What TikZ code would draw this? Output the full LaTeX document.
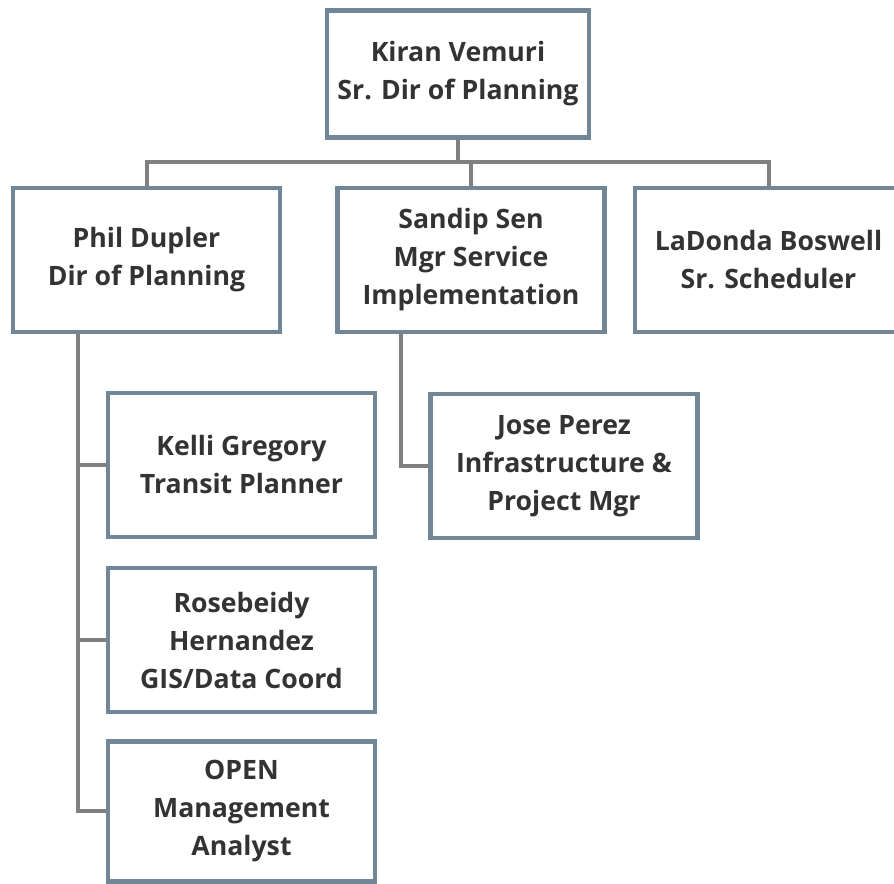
\documentclass[tikz,border=0pt]{standalone}
\usepackage{fontspec}
\setmainfont{Open Sans}
\usepackage{tikz}
\usetikzlibrary{calc,positioning}

\definecolor{boxline}{RGB}{113,134,150}
\definecolor{connline}{RGB}{128,128,128}
\definecolor{boxtext}{RGB}{51,51,51}

\tikzset{
	person/.style={draw=boxline, line width=3.4pt, fill=white, inner sep=0pt,
		minimum width=200pt, minimum height=108pt, align=center,
		text=boxtext, font=\fontsize{20}{28.5}\selectfont\bfseries},
	conn/.style={draw=connline, line width=3pt}
}

\begin{document}
\begin{tikzpicture}[x=0.75pt,y=-0.75pt]
	\useasboundingbox (0,0) rectangle (894,884);
	\clip (0,0) rectangle (894,884);
	\node[person, minimum width=196.5pt, minimum height=95.25pt] (1) at (458,74) {Kiran Vemuri\\Sr. Dir of Planning};
	\node[person] (2) at (146.5,260) {Phil Dupler\\Dir of Planning};
	\node[person] (3) at (471,260) {Sandip Sen\\Mgr Service\\Implementation};
	\node[person] (4) at (768.5,260) {LaDonda Boswell\\Sr. Scheduler};
	\node[person] (5) at (241.5,465) {Kelli Gregory\\Transit Planner};
	\node[person] (6) [below=20pt of 5] {Rosebeidy\\Hernandez\\GIS/Data Coord};
	\node[person, minimum height=105pt] (7) [below=18.5pt of 6] {OPEN\\Management\\Analyst};
	\node[person] (8) at (564,466) {Jose Perez\\Infrastructure \&\\Project Mgr};
	
	\coordinate (9) at (458,162);
	\coordinate (10) at ($(2.south west)+(67,0)$);
	\coordinate (11) at ($(3.south west)+(66,0)$);
	
	\path[conn] (1) -- (9);
	\path[conn] (2.north) |- (9);
	\path[conn] (3.north) |- (9);
	\path[conn] (4.north) |- (9);
	\path[conn] (10) |- (5.west);
	\path[conn] (10) |- (6.west);
	\path[conn] (10) |- (7.west);
	\path[conn] (11) |- (8.west);
\end{tikzpicture}
\end{document}
